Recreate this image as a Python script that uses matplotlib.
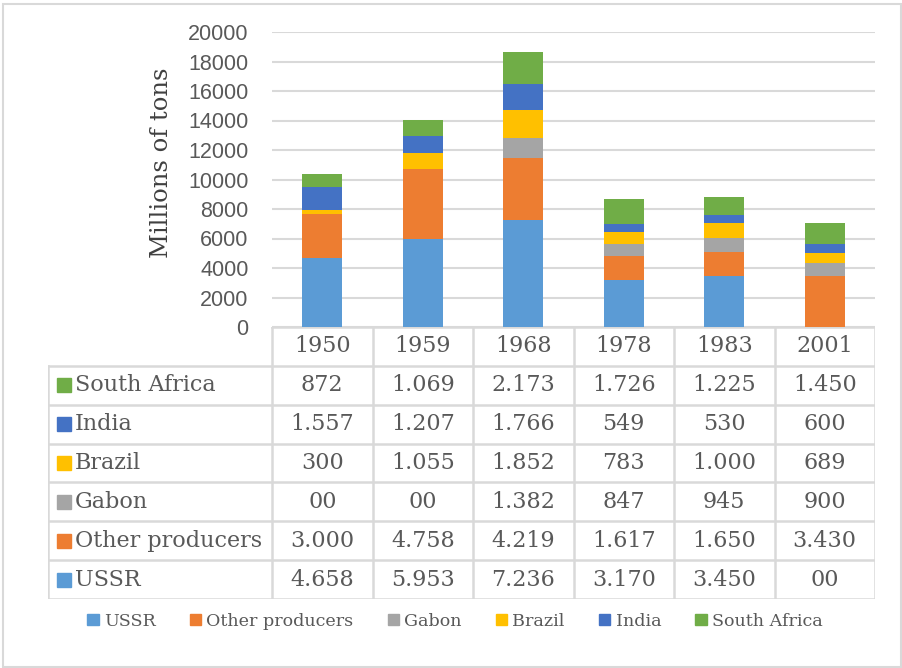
import matplotlib.pyplot as plt
from matplotlib.patches import Rectangle, Patch

years = ["1950", "1959", "1968", "1978", "1983", "2001"]
series = ["USSR", "Other producers", "Gabon", "Brazil", "India", "South Africa"]
ussr = [4658, 5953, 7236, 3170, 3450, 0]
other = [3000, 4758, 4219, 1617, 1650, 3430]
gabon = [0, 0, 1382, 847, 945, 900]
brazil = [300, 1055, 1852, 783, 1000, 689]
india = [1557, 1207, 1766, 549, 530, 600]
south_africa = [872, 1069, 2173, 1726, 1225, 1450]
colors = ["#5B9BD5", "#ED7D31", "#A5A5A5", "#FFC000", "#4472C4", "#70AD47"]

values = [ussr, other, gabon, brazil, india, south_africa]

W, H = 902, 668
fig = plt.figure(figsize=(W / 100, H / 100), dpi=100)
text_col = "#595959"
grid_col = "#D9D9D9"
serif = "DejaVu Serif"


def fmt(v):
    if v == 0:
        return "00"
    if v >= 1000:
        return f"{v // 1000}.{v % 1000:03d}"
    return str(v)


# outer chart border
fig.patches.append(Rectangle((3 / W, 1 / H), 898 / W, 663 / H, transform=fig.transFigure,
                             fill=False, edgecolor=grid_col, linewidth=1.5))

# bar chart
ax = fig.add_axes([272 / W, (H - 327) / H, 603 / W, 295 / H])
x = list(range(len(years)))
bottom = [0] * len(years)
for name, vals, c in zip(series, values, colors):
    ax.bar(x, vals, width=0.4, bottom=bottom, color=c, label=name, zorder=3)
    bottom = [b + v for b, v in zip(bottom, vals)]
ax.set_xlim(-0.5, 5.5)
ax.set_ylim(0, 20000)
ax.set_yticks(range(0, 20001, 2000))
ax.set_xticks([])
ax.grid(axis="y", color=grid_col, linewidth=1.5, zorder=0)
for s in ax.spines.values():
    s.set_visible(False)
ax.tick_params(axis="y", length=0, pad=17, labelsize=15.5, labelcolor=text_col)
for lab in ax.get_yticklabels():
    lab.set_family("Liberation Sans")
ax.set_ylabel("Millions of tons", family=serif, fontsize=17.5, color="#404040")
ax.yaxis.set_label_coords(-0.165, 0.556)

# data table
tab = fig.add_axes([48 / W, (H - 599) / H, 827 / W, 272 / H])
label_w = 224 / 100.5
left = -0.5 - label_w
tab.set_xlim(left, 5.5)
tab.set_ylim(7, 0)
tab.axis("off")
lw = 1.8
fs = 16
# header row
tab.plot([-0.5, 5.5], [0, 0], color=grid_col, lw=lw)
for i in range(len(years) + 1):
    tab.plot([i - 0.5, i - 0.5], [0, 7], color=grid_col, lw=lw)
for r in range(1, 8):
    tab.plot([left, 5.5], [r, r], color=grid_col, lw=lw)
tab.plot([left, left], [1, 7], color=grid_col, lw=lw)
for i, y in enumerate(years):
    tab.text(i, 0.5, y, ha="center", va="center", family=serif, fontsize=fs, color=text_col)

rows = list(zip(series, values, colors))[::-1]
for r, (name, vals, c) in enumerate(rows, start=1):
    tab.add_patch(Rectangle((left + 0.09, r + 0.32), 0.14, 0.36, color=c))
    tab.text(left + 0.27, r + 0.5, name, ha="left", va="center", family=serif,
             fontsize=fs, color=text_col)
    for i, v in enumerate(vals):
        tab.text(i, r + 0.5, fmt(v), ha="center", va="center", family=serif,
                 fontsize=fs, color=text_col)

# legend
handles = [Patch(color=c, label=n) for n, c in zip(series, colors)]
fig.legend(handles=handles, loc="center", bbox_to_anchor=(455 / W, (H - 621) / H), ncol=6,
           frameon=False, handlelength=0.65, handleheight=0.65, handletextpad=0.3,
           columnspacing=1.95, prop={"family": serif, "size": 12.6}, labelcolor=text_col)

fig.savefig("out.png", dpi=100)
